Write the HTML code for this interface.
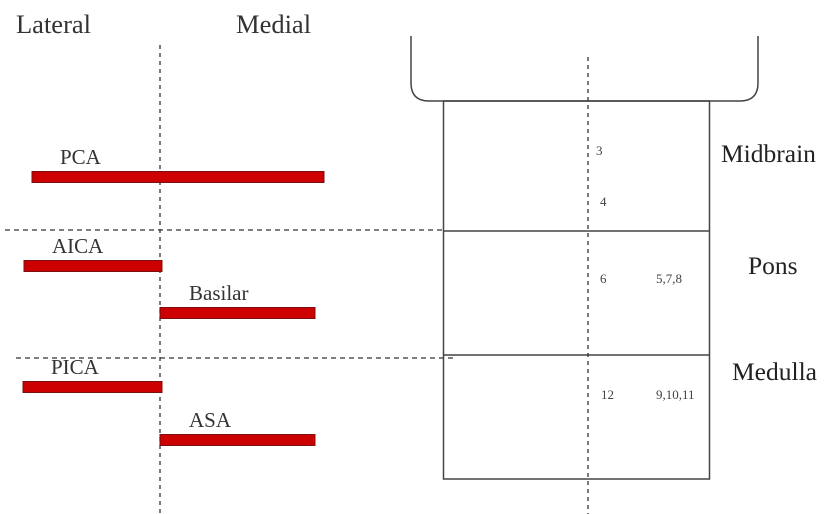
<!DOCTYPE html>
<html><head><meta charset="utf-8"><style>
html,body{margin:0;padding:0;background:#fff;}
svg{display:block;font-family:"Liberation Serif",serif;}
</style></head><body>
<svg id="c" width="837" height="514" viewBox="0 0 837 514">
<text x="16" y="33" font-size="26.5" fill="#333">Lateral</text>
<text x="236" y="33" font-size="26.5" fill="#333">Medial</text>
<line x1="160" y1="45" x2="160" y2="514" stroke="#333" stroke-width="1.3" stroke-dasharray="4,4"/>
<line x1="5" y1="230" x2="443" y2="230" stroke="#333" stroke-width="1.3" stroke-dasharray="5,4"/>
<line x1="16" y1="358" x2="453" y2="358" stroke="#333" stroke-width="1.3" stroke-dasharray="5,4"/>
<path d="M411 36 V83 Q411 101 429 101 H740 Q758 101 758 83 V36" fill="none" stroke="#444" stroke-width="1.5"/>
<rect x="443.5" y="101" width="266" height="378" fill="none" stroke="#444" stroke-width="1.5"/>
<line x1="443" y1="231" x2="710" y2="231" stroke="#444" stroke-width="1.5"/>
<line x1="443" y1="355" x2="710" y2="355" stroke="#444" stroke-width="1.5"/>
<line x1="588" y1="57" x2="588" y2="514" stroke="#333" stroke-width="1.3" stroke-dasharray="4,4"/>
<text x="721" y="162" font-size="25.5" fill="#222">Midbrain</text>
<text x="748" y="274" font-size="25.5" fill="#222">Pons</text>
<text x="732" y="380" font-size="25.5" fill="#222">Medulla</text>
<g font-size="13" fill="#444">
<text x="596" y="155">3</text>
<text x="600" y="206">4</text>
<text x="600" y="283">6</text>
<text x="656" y="283">5,7,8</text>
<text x="601" y="399">12</text>
<text x="656" y="399">9,10,11</text>
</g>
<g id="bars"></g>
</svg>
<script>
// Arteries: lateral extent (start) to end, in units where 0 = midline, negative = lateral
const arteries = ["PCA", "AICA", "Basilar", "PICA", "ASA"];
const startVals = [-128, -136, 0, -137, 0];
const endVals = [164, 2, 155, 2, 155];
const rowY = [177, 266, 313, 387, 440];
const labelOffsetX = [28, 28, 29, 28, 29];
function xScale(v){ return 160 + v; }
const g = document.getElementById('bars');
const NS = "http://www.w3.org/2000/svg";
for (let i = 0; i < arteries.length; i++) {
  const x0 = xScale(startVals[i]), x1 = xScale(endVals[i]);
  const r = document.createElementNS(NS, 'rect');
  r.setAttribute('x', x0); r.setAttribute('y', rowY[i] - 5.5);
  r.setAttribute('width', x1 - x0); r.setAttribute('height', 11);
  r.setAttribute('fill', '#cc0000'); r.setAttribute('stroke', '#7a1010'); r.setAttribute('stroke-width', '1');
  
  
  g.appendChild(r);
  const t = document.createElementNS(NS, 'text');
  t.setAttribute('x', x0 + labelOffsetX[i]); t.setAttribute('y', rowY[i] - 13);
  t.setAttribute('font-size', '21'); t.setAttribute('fill', '#333');
  t.textContent = arteries[i];
  
  
  g.appendChild(t);
}
</script>
</body></html>
